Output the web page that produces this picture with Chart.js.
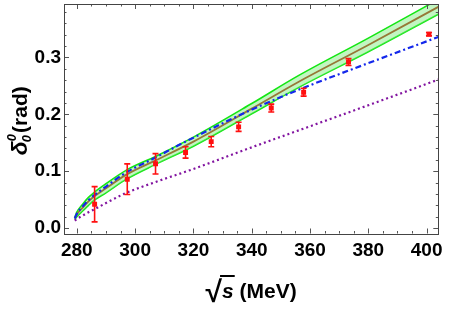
<!DOCTYPE html>
<html>
<head>
<meta charset="UTF-8">
<title>delta 0 0 phase shift</title>
<script src="https://cdn.jsdelivr.net/npm/chart.js@4.4.0/dist/chart.umd.min.js"></script>
<style>
body{margin:0;background:#fff;}
#wrap{position:relative;width:450px;height:309px;}
</style>
</head>
<body>
<div id="wrap"><canvas id="myChart"></canvas></div>
<script>
// measured points with errors
var ptX = [286.1, 297.3, 307.0, 317.3, 326.1, 335.5, 346.7, 357.8, 373.2, 400.8];
var ptY = [0.042, 0.086, 0.113, 0.133, 0.152, 0.178, 0.211, 0.239, 0.292, 0.341];
var ptErr = [0.031, 0.027, 0.018, 0.010, 0.009, 0.008, 0.007, 0.007, 0.006, 0.003];

// green band (upper / central / lower)
var bandX = [279.3, 280, 282, 284, 286, 290, 297, 307, 320, 340, 356, 380, 404];
var bandUp = [0.019, 0.028, 0.042, 0.054, 0.063, 0.078, 0.102, 0.126, 0.160, 0.219, 0.268, 0.334, 0.402];
var bandMid = [0.017, 0.024, 0.036, 0.047, 0.056, 0.070, 0.094, 0.119, 0.152, 0.210, 0.257, 0.322, 0.389];
var bandLow = [0.015, 0.020, 0.030, 0.040, 0.049, 0.062, 0.086, 0.112, 0.144, 0.201, 0.247, 0.310, 0.376];

// blue dash-dot curve
var blueX = [279.3, 280, 282, 284, 286, 290, 297, 307, 315, 320, 339, 356, 380, 404];
var blueY = [0.017, 0.025, 0.038, 0.049, 0.058, 0.073, 0.098, 0.124, 0.146, 0.159, 0.206, 0.243, 0.290, 0.336];

// purple dotted curve
var purpX = [279.3, 280, 282, 284, 286, 290, 297, 307, 320, 340, 360, 380, 404];
var purpY = [0.013, 0.016, 0.022, 0.028, 0.033, 0.044, 0.062, 0.081, 0.104, 0.142, 0.179, 0.216, 0.261];

var xTicks = [280, 300, 320, 340, 360, 380, 400];
var yTicks = [0.0, 0.1, 0.2, 0.3];

var toXY = function(xs, ys){
	var out = [];
	for (var i = 0; i < xs.length; i++){
		out.push({x: xs[i], y: ys[i]});
	}
	return out;
};

var lineSet = function(xs, ys, color, width, dash, order){
	return {
		type: 'line',
		data: toXY(xs, ys),
		borderColor: color,
		borderWidth: width,
		borderDash: dash,
		pointRadius: 0,
		fill: false,
		cubicInterpolationMode: 'monotone',
		order: order
	};
};

// frame with inward ticks, like the original
var framePlugin = {
	id: 'frame',
	afterDatasetsDraw: function(chart){
		var ctx = chart.ctx, a = chart.chartArea;
		var xs = chart.scales.x, ys = chart.scales.y;
		ctx.save();
		ctx.strokeStyle = '#555';
		ctx.lineWidth = 1;
		ctx.beginPath();
		for (var v = 280; v <= 400; v += 5){
			var px = Math.round(xs.getPixelForValue(v)) + 0.5;
			var len = (v % 20 === 0) ? 5 : 2.5;
			ctx.moveTo(px, a.bottom); ctx.lineTo(px, a.bottom - len);
			ctx.moveTo(px, a.top); ctx.lineTo(px, a.top + len);
		}
		for (var k = 0; k <= 19; k++){
			var yv = k * 0.02;
			var py = Math.round(ys.getPixelForValue(yv)) + 0.5;
			var l2 = (k % 5 === 0) ? 5 : 2.5;
			ctx.moveTo(a.left, py); ctx.lineTo(a.left + l2, py);
			ctx.moveTo(a.right, py); ctx.lineTo(a.right - l2, py);
		}
		ctx.stroke();
		ctx.strokeStyle = '#444';
		ctx.strokeRect(Math.round(a.left) + 0.5, Math.round(a.top) + 0.5, Math.round(a.right - a.left), Math.round(a.bottom - a.top));
		ctx.restore();
	}
};

var errorPlugin = {
	id: 'errbars',
	afterDatasetsDraw: function(chart){
		var ctx = chart.ctx;
		var xs = chart.scales.x, ys = chart.scales.y;
		ctx.save();
		ctx.beginPath();
		chart.ctx.rect(chart.chartArea.left, chart.chartArea.top, chart.chartArea.right - chart.chartArea.left, chart.chartArea.bottom - chart.chartArea.top);
		ctx.clip();
		ctx.strokeStyle = '#ff1010';
		ctx.lineWidth = 1.6;
		ctx.beginPath();
		for (var i = 0; i < ptX.length; i++){
			var px = xs.getPixelForValue(ptX[i]);
			var top = ys.getPixelForValue(ptY[i] + ptErr[i]);
			var bot = ys.getPixelForValue(ptY[i] - ptErr[i]);
			ctx.moveTo(px, top); ctx.lineTo(px, bot);
			ctx.moveTo(px - 3, top); ctx.lineTo(px + 3, top);
			ctx.moveTo(px - 3, bot); ctx.lineTo(px + 3, bot);
		}
		ctx.stroke();
		ctx.restore();
	}
};

var titlePlugin = {
	id: 'axisTitles',
	afterDraw: function(chart){
		var ctx = chart.ctx, a = chart.chartArea;
		ctx.save();
		ctx.fillStyle = '#000';
		ctx.textBaseline = 'alphabetic';
		ctx.textAlign = 'left';

		// x title: sqrt(s) (MeV)
		var fRad = 'bold 30px "Liberation Sans", Arial, sans-serif';
		var fS = 'italic bold 21px "Liberation Sans", Arial, sans-serif';
		var fU = 'bold 21px "Liberation Sans", Arial, sans-serif';
		ctx.font = fRad; var wRad = ctx.measureText('\u221A').width;
		ctx.font = fS; var wS = ctx.measureText('s').width;
		ctx.font = fU; var wU = ctx.measureText(' (MeV)').width;
		var total = wRad + wS + wU;
		var x0 = (a.left + a.right) / 2 - total / 2;
		var base = 298;
		ctx.font = fRad; ctx.fillText('\u221A', x0, base + 4);
		ctx.font = fS; ctx.fillText('s', x0 + wRad, base);
		ctx.lineWidth = 2;
		ctx.strokeStyle = '#000';
		ctx.beginPath();
		ctx.moveTo(x0 + wRad - 2, base - 22);
		ctx.lineTo(x0 + wRad + wS + 1, base - 22);
		ctx.stroke();
		ctx.font = fU; ctx.fillText(' (MeV)', x0 + wRad + wS, base);

		// y title: delta^0_0 (rad), rotated
		var fD = 'italic bold 23px "Liberation Sans", Arial, sans-serif';
		var fI = 'italic bold 13px "Liberation Sans", Arial, sans-serif';
		var fR = 'bold 21px "Liberation Sans", Arial, sans-serif';
		ctx.font = fD; var wD = ctx.measureText('\u03B4').width;
		ctx.font = fI; var wI = ctx.measureText('0').width;
		ctx.font = fR; var wR = ctx.measureText('(rad)').width;
		var tot = wD + wI + 1 + wR;
		ctx.translate(27, (a.top + a.bottom) / 2 + 2);
		ctx.rotate(-Math.PI / 2);
		var sx = -tot / 2;
		ctx.font = fD; ctx.fillText('\u03B4', sx, 0);
		ctx.font = fI;
		ctx.fillText('0', sx + wD, -11);
		ctx.fillText('0', sx + wD - 1, 4);
		ctx.font = fR; ctx.fillText('(rad)', sx + wD + wI + 1, 0);
		ctx.restore();
	}
};

var ctx = document.getElementById('myChart');
var myChart = new Chart(ctx, {
	data: {
		datasets: [
			{
				type: 'scatter',
				data: toXY(ptX, ptY),
				pointStyle: 'rect',
				pointRadius: 3.5,
				pointBackgroundColor: '#ff1010',
				pointBorderColor: '#ff1010',
				pointBorderWidth: 0,
				order: 0
			},
			lineSet(purpX, purpY, 'rgb(130,20,160)', 2.2, [2, 3], 1),
			lineSet(blueX, blueY, 'rgb(20,40,235)', 2.2, [6, 3, 2, 3], 2),
			lineSet(bandX, bandMid, 'rgb(150,120,55)', 1.8, [], 3),
			{
				type: 'line',
				data: toXY(bandX, bandUp),
				borderColor: 'rgb(20,230,20)',
				borderWidth: 1.6,
				pointRadius: 0,
				fill: '+1',
				backgroundColor: 'rgba(120,235,120,0.45)',
				cubicInterpolationMode: 'monotone',
				order: 4
			},
			lineSet(bandX, bandLow, 'rgb(20,230,20)', 1.6, [], 4)
		]
	},
	options: {
		responsive: true,
		maintainAspectRatio: false,
		animation: false,
		layout: {padding: {left: 0, right: 11.7, top: 3.3, bottom: 0}},
		plugins: {
			legend: {display: false},
			tooltip: {enabled: false}
		},
		scales: {
			x: {
				type: 'linear',
				min: 275.6,
				max: 404,
				grid: {display: false, drawTicks: false},
				border: {display: false},
				afterBuildTicks: function(scale){
					scale.ticks = xTicks.map(function(v){ return {value: v}; });
				},
				afterFit: function(scale){
					scale.height = 75.5;
					scale.paddingLeft = 0;
					scale.paddingRight = 0;
				},
				ticks: {
					autoSkip: false,
					maxRotation: 0,
					padding: 6,
					color: '#000',
					font: {family: '"Liberation Sans", Arial, sans-serif', size: 19, weight: 'bold'},
					callback: function(v){ return String(v); }
				}
			},
			y: {
				type: 'linear',
				min: -0.0095,
				max: 0.394,
				grid: {display: false, drawTicks: false},
				border: {display: false},
				afterBuildTicks: function(scale){
					scale.ticks = yTicks.map(function(v){ return {value: v}; });
				},
				afterFit: function(scale){
					scale.width = 64;
					scale.paddingTop = 0;
					scale.paddingBottom = 0;
				},
				ticks: {
					autoSkip: false,
					padding: 3,
					color: '#000',
					font: {family: '"Liberation Sans", Arial, sans-serif', size: 19, weight: 'bold'},
					callback: function(v){ return Number(v).toFixed(1); }
				}
			}
		}
	},
	plugins: [errorPlugin, framePlugin, titlePlugin]
});
</script>
</body>
</html>
